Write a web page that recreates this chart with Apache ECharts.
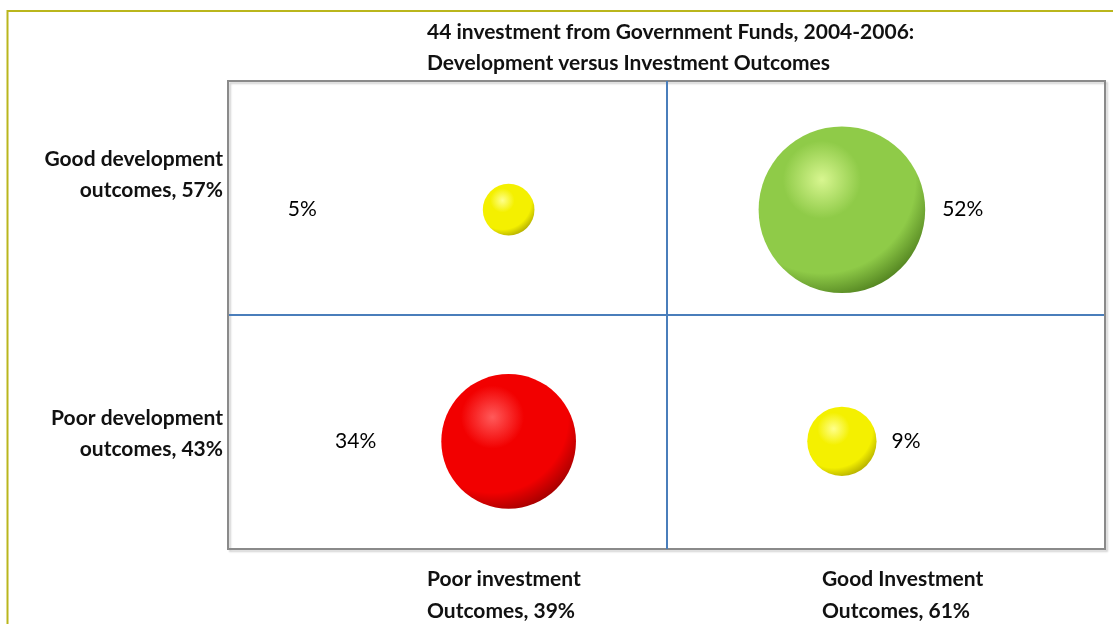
<!DOCTYPE html>
<html>
<head>
<meta charset="utf-8">
<script src="https://cdn.jsdelivr.net/npm/echarts@6/dist/echarts.min.js"></script>
<style>
  html, body { margin: 0; padding: 0; background: #fff; }
  #chart { width: 1113px; height: 624px; }
</style>
</head>
<body>
<div id="chart"></div>
<script>
// Quadrant bubble chart: investment outcome (x) vs development outcome (y)
const titleLines = ['44 investment from Government Funds, 2004-2006:', 'Development versus Investment Outcomes'];
const xCategoryLabels = [['Poor investment', 'Outcomes, 39%'], ['Good Investment', 'Outcomes, 61%']];
const yCategoryLabels = [['Good development', 'outcomes, 57%'], ['Poor development', 'outcomes, 43%']];

// Bubble positions on a 0-100 plane (quadrants split at 50) and their shares in %
const bubbleX = [32, 70, 32, 70];
const bubbleY = [72.5, 72.5, 23, 23];
const bubbleShare = [5, 52, 34, 9];
const bubbleNames = ['Poor investment / Good development', 'Good investment / Good development',
                     'Poor investment / Poor development', 'Good investment / Poor development'];

// Sphere shading per bubble: [highlight, body, rim]
const sphereShades = [
  ['#ffff8c', '#f4f000', '#9c9600'],
  ['#d8f690', '#8fcb48', '#3d6a12'],
  ['#ff5a5a', '#f20000', '#880000'],
  ['#ffff8c', '#f4f000', '#9c9600']
];
// Where each value label sits relative to its bubble
const labelPlacement = [
  { position: 'left', distance: 166 },
  { position: 'right', distance: 17 },
  { position: 'left', distance: 65 },
  { position: 'right', distance: 15 }
];

const FONT = 'Lato, "Open Sans", sans-serif';
const BOLD = 'bold 21px ' + FONT;

function sphere(shade) {
  return new echarts.graphic.RadialGradient(0.38, 0.32, 0.78, [
    { offset: 0, color: shade[0] },
    { offset: 0.3, color: shade[1] },
    { offset: 0.72, color: shade[1] },
    { offset: 1, color: shade[2] }
  ]);
}

const data = bubbleShare.map((v, i) => ({
  name: bubbleNames[i],
  value: [bubbleX[i], bubbleY[i], v],
  itemStyle: { color: sphere(sphereShades[i]), opacity: 1 },
  label: Object.assign({ show: true }, labelPlacement[i])
}));

// Text blocks drawn one line at a time so each line can be aligned on its own
function textLines(lines, anchor, firstTop, lineHeight, align) {
  return lines.map((t, k) => {
    const el = {
      type: 'text',
      top: firstTop + k * lineHeight,
      style: { text: t, font: BOLD, fill: '#111' }
    };
    if (align === 'right') el.right = 1113 - anchor; else el.left = anchor;
    return el;
  });
}

const chart = echarts.init(document.getElementById('chart'), null, { renderer: 'canvas' });

chart.setOption({
  animation: false,
  backgroundColor: '#ffffff',
  grid: {
    left: 228, right: 8, top: 81, bottom: 75,
    show: true,
    borderColor: '#8a8a8a',
    borderWidth: 2,
    shadowColor: 'rgba(0,0,0,0.18)',
    shadowBlur: 2,
    shadowOffsetX: 2,
    shadowOffsetY: 2
  },
  xAxis: {
    type: 'value', min: 0, max: 100, interval: 50,
    axisLine: { show: false }, axisTick: { show: false }, axisLabel: { show: false },
    splitLine: { show: true, lineStyle: { color: ['#8a8a8a', '#4a7ebb', '#8a8a8a'], width: 2 } }
  },
  yAxis: {
    type: 'value', min: 0, max: 100, interval: 50,
    axisLine: { show: false }, axisTick: { show: false }, axisLabel: { show: false },
    splitLine: { show: true, lineStyle: { color: ['#8a8a8a', '#4a7ebb', '#8a8a8a'], width: 2 } }
  },
  series: [{
    type: 'scatter',
    data: data,
    symbol: 'circle',
    symbolSize: (val) => Math.sqrt(val[2]) * 23.1,
    itemStyle: { opacity: 1 },
    label: {
      formatter: (p) => p.value[2] + '%',
      color: '#000',
      opacity: 1,
      fontFamily: FONT,
      fontSize: 21
    },
    emphasis: { disabled: true }
  }],
  graphic: [
    {
      type: 'rect', z: -1, silent: true,
      shape: { x: 7.5, y: 11, width: 1300, height: 1000 },
      style: { fill: 'none', stroke: '#bab61c', lineWidth: 2 }
    }
  ]
    .concat(textLines(titleLines, 427, 22, 31, 'left'))
    .concat(textLines(yCategoryLabels[0], 223, 149, 31, 'right'))
    .concat(textLines(yCategoryLabels[1], 223, 408, 31, 'right'))
    .concat(textLines(xCategoryLabels[0], 427, 569, 32, 'left'))
    .concat(textLines(xCategoryLabels[1], 822, 569, 32, 'left'))
});
</script>
</body>
</html>
